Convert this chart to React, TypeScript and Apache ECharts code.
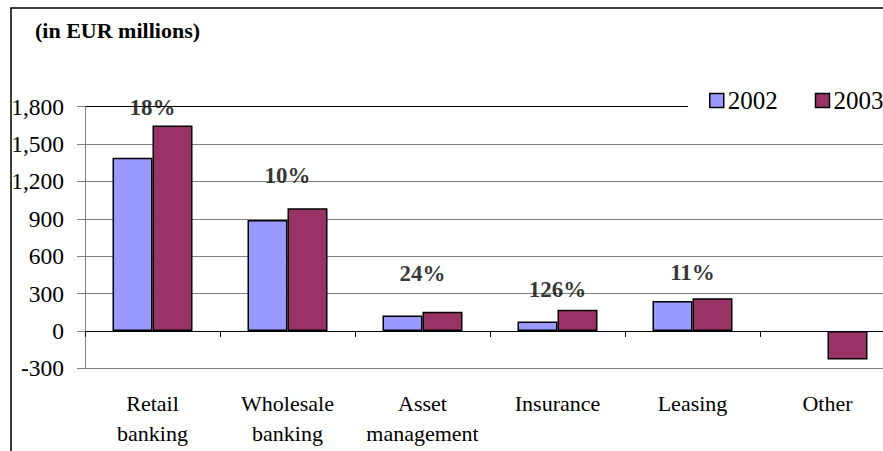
import React, { useEffect, useRef } from "react";
import * as echarts from "echarts";

const categories = ["Retail\nbanking", "Wholesale\nbanking", "Asset\nmanagement", "Insurance", "Leasing", "Other"];
const values2002 = [1390, 890, 123, 75, 240, null];
const values2003 = [1650, 985, 153, 170, 262, -230];
const growthLabels = ["18%", "10%", "24%", "126%", "11%"];
const growthLabelLevels = [1795, 1249, 458, 333, 466];
const yMin = -300;
const yMax = 1800;
const yStep = 300;

const FONT = "Liberation Serif";

export default function App() {
  const ref = useRef<HTMLDivElement>(null);
  useEffect(() => {
    if (!ref.current) return;
    const chart = echarts.init(ref.current, undefined, { renderer: "svg" });
    const gridLineColors = [];
    for (let v = yMin; v <= yMax; v += yStep) gridLineColors.push(v === yMax ? "#000000" : "#808080");
    chart.setOption({
      animation: false,
      backgroundColor: "#ffffff",
      title: {
        text: "(in EUR millions)",
        left: 35,
        top: 19,
        padding: 0,
        textStyle: { fontFamily: FONT, fontSize: 22, fontWeight: "bold", color: "#000", lineHeight: 22 },
      },
      legend: {
        data: ["2002", "2003"],
        left: 688,
        top: 80,
        padding: [8, 20, 8, 21],
        backgroundColor: "#ffffff",
        itemWidth: 14,
        itemHeight: 14,
        itemGap: 37,
        icon: "rect",
        itemStyle: { borderColor: "#000", borderWidth: 1.5 },
        textStyle: { fontFamily: FONT, fontSize: 25, color: "#000", lineHeight: 25, padding: [0, 0, 0, -1] },
      },
      graphic: [
        {
          type: "rect",
          shape: { x: 11, y: 8, width: 2000, height: 2000 },
          style: { fill: "none", stroke: "#000", lineWidth: 1.5 },
          silent: true,
          z: 100,
        },
      ],
      grid: { left: 85, top: 106.7, width: 810, height: 261.6 },
      xAxis: [
        {
          type: "category",
          data: categories,
          position: "bottom",
          axisLine: { show: true, onZero: true, lineStyle: { color: "#000", width: 1 } },
          axisTick: { show: true, length: 6, lineStyle: { color: "#000" } },
          axisLabel: { show: false },
          splitLine: { show: false },
        },
        {
          type: "category",
          data: categories,
          position: "bottom",
          axisLine: { show: false, onZero: false },
          axisTick: { show: false },
          axisLabel: {
            show: true,
            interval: 0,
            margin: 20,
            fontFamily: FONT,
            fontSize: 22,
            lineHeight: 30,
            color: "#000",
          },
          splitLine: { show: false },
        },
      ],
      yAxis: {
        type: "value",
        min: yMin,
        max: yMax,
        interval: yStep,
        axisLine: { show: true, lineStyle: { color: "#808080", width: 1 } },
        axisTick: { show: true, length: 8, lineStyle: { color: "#808080" } },
        axisLabel: {
          margin: 21,
          fontFamily: FONT,
          fontSize: 23.5,
          color: "#000",
          formatter: (v: number) => v.toLocaleString("en-US"),
        },
        splitLine: { show: true, lineStyle: { color: gridLineColors, width: 1 } },
      },
      series: [
        {
          name: "2002",
          type: "bar",
          xAxisIndex: 0,
          data: values2002,
          barWidth: 40,
          barGap: "0%",
          itemStyle: { color: "#9999FF", borderColor: "#000", borderWidth: 1.5 },
        },
        {
          name: "2003",
          type: "bar",
          xAxisIndex: 0,
          data: values2003,
          barWidth: 40,
          barGap: "0%",
          itemStyle: { color: "#993366", borderColor: "#000", borderWidth: 1.5 },
        },
        {
          name: "growth",
          type: "scatter",
          xAxisIndex: 0,
          symbolSize: 1,
          itemStyle: { color: "rgba(0,0,0,0)" },
          data: growthLabelLevels.map((v, i) => [i, v]),
          label: {
            show: true,
            position: "inside",
            formatter: (p: any) => growthLabels[p.dataIndex],
            fontFamily: FONT,
            fontSize: 23,
            fontWeight: "bold",
            color: "#000",
          },
          z: 5,
        },
      ],
    });
    return () => chart.dispose();
  }, []);
  return (
    <div style={{ position: "fixed", left: 0, top: 0, width: 883, height: 451, overflow: "hidden", background: "#fff" }}>
      <div ref={ref} style={{ width: 910, height: 451 }} />
    </div>
  );
}
